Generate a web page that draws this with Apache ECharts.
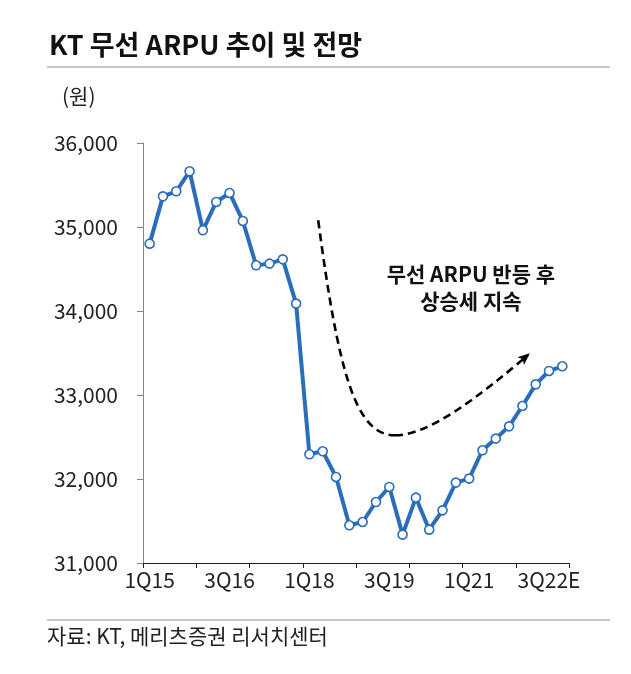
<!DOCTYPE html>
<html>
<head>
<meta charset="utf-8">
<script src="https://cdn.jsdelivr.net/npm/echarts@6/dist/echarts.min.js"></script>
<style>
  html, body { margin: 0; padding: 0; background: #fff; }
  #chart { width: 631px; height: 674px; }
</style>
</head>
<body>
<div id="chart"></div>
<script>
const FONT = '"Noto Sans CJK KR", "Noto Sans", sans-serif';

const quarters = [
  "1Q15", "2Q15", "3Q15", "4Q15", "1Q16", "2Q16", "3Q16", "4Q16",
  "1Q17", "2Q17", "3Q17", "4Q17", "1Q18", "2Q18", "3Q18", "4Q18",
  "1Q19", "2Q19", "3Q19", "4Q19", "1Q20", "2Q20", "3Q20", "4Q20",
  "1Q21", "2Q21", "3Q21", "4Q21", "1Q22", "2Q22E", "3Q22E", "4Q22E",
];
const arpu = [
  34802, 35365, 35425, 35663, 34961, 35298, 35405, 35072,
  34544, 34564, 34615, 34088, 32294, 32330, 32024, 31449,
  31488, 31726, 31905, 31338, 31778, 31397, 31627, 31957,
  32005, 32342, 32481, 32627, 32869, 33127, 33286, 33342,
];
const yTicks = { min: 31000, max: 36000, step: 1000 };

// dashed outlook curve, in [category index, value]
const outlookCurve = [
  [12.66, 35080], [14.16, 33294], [15.43, 32520], [18.43, 32520],
  [21.06, 32520], [24.81, 32996], [28.4, 33470],
];
const arrowTip = [28.56, 33496];
const noteAnchor = [24.13, 34280];
const noteText = "무선 ARPU 반등 후\n상승세 지속";

const chart = echarts.init(document.getElementById("chart"));

chart.setOption({
  animation: false,
  textStyle: { fontFamily: FONT },
  title: {
    text: "KT 무선 ARPU 추이 및 전망",
    left: 44,
    top: 26,
    textStyle: { fontSize: 27, fontWeight: "bold", color: "#111", fontFamily: FONT },
  },
  grid: { left: 143, right: 62, top: 143, bottom: 111 },
  xAxis: {
    type: "category",
    data: quarters,
    boundaryGap: true,
    axisLine: { lineStyle: { color: "#222", width: 1 } },
    axisTick: { show: true, interval: 3, length: 5, lineStyle: { color: "#222" } },
    axisLabel: {
      interval: 5,
      color: "#222",
      fontSize: 21,
      margin: 7,
      fontFamily: FONT,
    },
  },
  yAxis: {
    type: "value",
    min: yTicks.min,
    max: yTicks.max,
    interval: yTicks.step,
    axisLine: { show: true, lineStyle: { color: "#888", width: 1 } },
    axisTick: { show: true, length: 6, lineStyle: { color: "#888" } },
    splitLine: { show: false },
    axisLabel: {
      color: "#222",
      fontSize: 21,
      margin: 25,
      fontFamily: FONT,
      formatter: (v) => v.toLocaleString("en-US"),
    },
  },
  series: [
    {
      type: "line",
      data: arpu,
      symbol: "circle",
      symbolSize: 9,
      showAllSymbol: true,
      lineStyle: { color: "#2a6db8", width: 4 },
      itemStyle: { color: "#fff", borderColor: "#2a6db8", borderWidth: 1.6 },
      z: 3,
    },
  ],
});

function toPx([i, v]) {
  const a = chart.convertToPixel({ xAxisIndex: 0 }, 0);
  const b = chart.convertToPixel({ xAxisIndex: 0 }, 1);
  const y = chart.convertToPixel({ yAxisIndex: 0 }, v);
  return [a + i * (b - a), y];
}

const c = outlookCurve.map(toPx);
const tip = toPx(arrowTip);
const dirX = tip[0] - c[5][0], dirY = tip[1] - c[5][1];
const len = Math.hypot(dirX, dirY);
const ux = dirX / len, uy = dirY / len;
const headLen = 12, headW = 5;
const base = [tip[0] - ux * headLen, tip[1] - uy * headLen];
const note = toPx(noteAnchor);

const dashStyle = { stroke: "#000", lineWidth: 2.6, lineDash: [8, 5], fill: null };

chart.setOption({
  graphic: [
    { type: "line", shape: { x1: 47, y1: 67, x2: 610, y2: 67 }, style: { stroke: "#b5b5b5", lineWidth: 1.5 } },
    { type: "line", shape: { x1: 47, y1: 620, x2: 610, y2: 620 }, style: { stroke: "#b5b5b5", lineWidth: 1.5 } },
    { type: "text", left: 62, top: 86, style: { text: "(원)", font: `21px ${FONT}`, fill: "#222" } },
    { type: "text", left: 47, top: 626, style: { text: "자료: KT, 메리츠증권 리서치센터", font: `21px ${FONT}`, fill: "#222" } },
    {
      type: "bezierCurve",
      shape: { x1: c[0][0], y1: c[0][1], cpx1: c[1][0], cpy1: c[1][1], cpx2: c[2][0], cpy2: c[2][1], x2: c[3][0], y2: c[3][1] },
      style: dashStyle,
    },
    {
      type: "bezierCurve",
      shape: { x1: c[3][0], y1: c[3][1], cpx1: c[4][0], cpy1: c[4][1], cpx2: c[5][0], cpy2: c[5][1], x2: c[6][0], y2: c[6][1] },
      style: dashStyle,
    },
    {
      type: "polygon",
      shape: {
        points: [
          tip,
          [base[0] - uy * headW, base[1] + ux * headW],
          [base[0] + ux * 3, base[1] + uy * 3],
          [base[0] + uy * headW, base[1] - ux * headW],
        ],
      },
      style: { fill: "#000" },
    },
    {
      type: "text",
      x: note[0],
      y: note[1],
      style: {
        text: noteText,
        font: `bold 21px ${FONT}`,
        fill: "#111",
        align: "center",
        verticalAlign: "middle",
        lineHeight: 27,
      },
    },
  ],
});
</script>
</body>
</html>
